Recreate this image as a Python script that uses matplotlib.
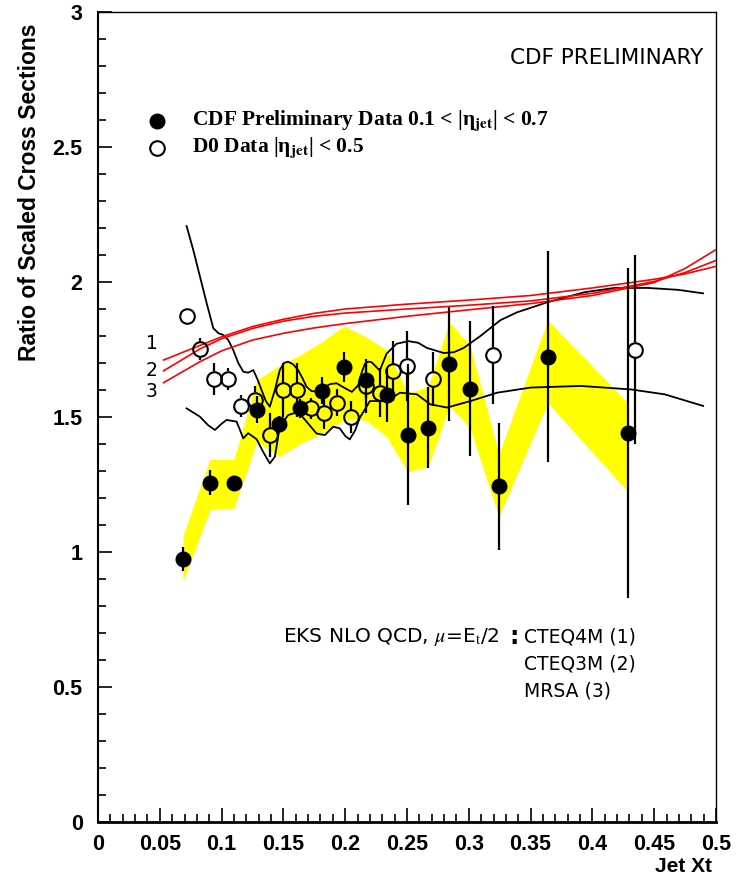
import matplotlib
matplotlib.use('Agg')
import matplotlib.pyplot as plt
import numpy as np

plt.rcParams['mathtext.fontset'] = 'stix'

# CDF preliminary data (filled circles)
cdf_x = [0.0687, 0.0905, 0.110, 0.1285, 0.1466, 0.1638, 0.1816, 0.199, 0.2165,
         0.2336, 0.2506, 0.2672, 0.2842, 0.301, 0.3243, 0.3638, 0.4285]
cdf_y = [0.974, 1.256, 1.256, 1.526, 1.473, 1.532, 1.597, 1.686, 1.636,
         1.581, 1.435, 1.460, 1.696, 1.605, 1.243, 1.724, 1.441]
cdf_err = [0.045, 0.046, 0.02, 0.05, 0.03, 0.035, 0.05, 0.055, 0.065,
           0.10, 0.26, 0.15, 0.21, 0.25, 0.235, 0.39, 0.61]
# systematic band edges at the CDF points
band_hi = [1.059, 1.343, 1.343, 1.637, 1.69, 1.73, 1.78, 1.837, 1.797,
           1.748, 1.589, 1.612, 1.851, 1.765, 1.361, 1.859, 1.553]
band_lo = [0.890, 1.156, 1.163, 1.409, 1.353, 1.402, 1.439, 1.489, 1.489,
           1.427, 1.297, 1.316, 1.54, 1.46, 1.131, 1.553, 1.224]

# D0 data (open circles)
d0_x = [0.0717, 0.0827, 0.0938, 0.1048, 0.116, 0.1267, 0.139, 0.1498, 0.161,
        0.172, 0.183, 0.1937, 0.2045, 0.2165, 0.228, 0.239, 0.2504, 0.2709,
        0.3193, 0.4348]
d0_y = [1.874, 1.751, 1.641, 1.641, 1.541, 1.563, 1.433, 1.600, 1.600,
        1.532, 1.514, 1.553, 1.499, 1.615, 1.590, 1.670, 1.690, 1.640,
        1.730, 1.749]
d0_err = [0.0, 0.04, 0.06, 0.04, 0.04, 0.05, 0.08, 0.10, 0.10,
          0.04, 0.06, 0.05, 0.06, 0.10, 0.09, 0.11, 0.13, 0.10,
          0.18, 0.35]

# D0 systematic envelope (black curves)
up_x = [0.0717, 0.0770, 0.0825, 0.0880, 0.0933, 0.0975, 0.1013, 0.1054, 0.1094,
        0.1135, 0.1175, 0.1215, 0.1256, 0.1290, 0.1323, 0.1357, 0.139, 0.1431,
        0.1471, 0.1505, 0.1538, 0.1579, 0.1619, 0.1653, 0.1687, 0.1728, 0.1768,
        0.1800, 0.1835, 0.1880, 0.193, 0.1997, 0.2054, 0.2104, 0.2130, 0.2159,
        0.2185, 0.2213, 0.228, 0.2334, 0.2414, 0.2511, 0.2590, 0.266, 0.2796,
        0.2880, 0.2959, 0.3094, 0.3257, 0.3392, 0.3636, 0.3934, 0.4178, 0.4449,
        0.4693, 0.4896]
up_y = [2.207, 2.120, 2.020, 1.920, 1.829, 1.810, 1.804, 1.785, 1.748,
        1.700, 1.668, 1.664, 1.674, 1.640, 1.600, 1.560, 1.538, 1.600,
        1.674, 1.700, 1.705, 1.695, 1.674, 1.645, 1.612, 1.596, 1.594,
        1.600, 1.612, 1.622, 1.625, 1.607, 1.593, 1.617, 1.660, 1.697,
        1.705, 1.703, 1.672, 1.734, 1.771, 1.781, 1.775, 1.756, 1.737,
        1.740, 1.756, 1.800, 1.859, 1.888, 1.925, 1.962, 1.978, 1.978,
        1.971, 1.958]
lo_x = [0.0717, 0.0825, 0.0890, 0.0946, 0.1000, 0.1040, 0.1121, 0.1150, 0.1175,
        0.1215, 0.1283, 0.1337, 0.139, 0.1431, 0.1471, 0.1538, 0.1619, 0.1687,
        0.1768, 0.1835, 0.1903, 0.1956, 0.2000, 0.2037, 0.2080, 0.2118, 0.2200,
        0.2336, 0.2444, 0.2580, 0.2688, 0.2824, 0.3013, 0.3229, 0.3500, 0.3907,
        0.4313, 0.4584, 0.4896]
lo_y = [1.532, 1.501, 1.470, 1.452, 1.475, 1.489, 1.483, 1.450, 1.421,
        1.440, 1.418, 1.370, 1.328, 1.353, 1.464, 1.507, 1.519, 1.483,
        1.439, 1.433, 1.464, 1.458, 1.430, 1.417, 1.450, 1.497, 1.559,
        1.559, 1.590, 1.584, 1.547, 1.535, 1.559, 1.590, 1.609, 1.615,
        1.602, 1.584, 1.541]

# EKS NLO QCD ratios: CTEQ4M (1), CTEQ3M (2), MRSA (3)
th_x = [0.053, 0.0825, 0.1, 0.125, 0.15, 0.175, 0.2, 0.25, 0.3, 0.35, 0.4, 0.45,
        0.475, 0.5]
th1 = [1.711, 1.765, 1.797, 1.835, 1.862, 1.884, 1.900, 1.918, 1.933, 1.950,
       1.978, 2.010, 2.030, 2.058]
th2 = [1.671, 1.752, 1.790, 1.828, 1.855, 1.873, 1.885, 1.900, 1.914, 1.930,
       1.958, 2.002, 2.035, 2.080]
th3 = [1.627, 1.705, 1.745, 1.785, 1.810, 1.830, 1.846, 1.873, 1.897, 1.920,
       1.950, 1.998, 2.050, 2.120]

fig = plt.figure(figsize=(7.4, 8.86), dpi=100)
ax = fig.add_axes([98 / 740, 64 / 886, 618 / 740, 810 / 886])

ax.fill_between(cdf_x, band_lo, band_hi, color='#ffff00', lw=0, zorder=1)

ax.plot(up_x, up_y, color='black', lw=1.3, zorder=2)
ax.plot(lo_x, lo_y, color='black', lw=1.3, zorder=2)
for th in (th1, th2, th3):
    ax.plot(th_x, th, color='red', lw=1.2, zorder=3)

# error bars stop at the circle edge, so open markers stay hollow
r = 7.5 / 270.0
for x, y, e in zip(d0_x, d0_y, d0_err):
    if e > r:
        ax.vlines(x, y + r, y + e, color='black', lw=1.6, zorder=4)
        ax.vlines(x, y - e, y - r, color='black', lw=1.6, zorder=4)
ax.plot(d0_x, d0_y, 'o', ms=10.5, mfc='none', mec='black', mew=1.5, zorder=5)

ax.vlines(cdf_x, np.array(cdf_y) - cdf_err, np.array(cdf_y) + cdf_err,
          color='black', lw=1.6, zorder=4)
ax.plot(cdf_x, cdf_y, 'o', ms=10.5, color='black', zorder=5)

ax.set_xlim(0, 0.5)
ax.set_ylim(0, 3)
ax.set_xticks(np.arange(0, 0.501, 0.05))
ax.set_xticks(np.arange(0, 0.501, 0.01), minor=True)
ax.set_yticks(np.arange(0, 3.01, 0.5))
ax.set_yticks(np.arange(0, 3.01, 0.1), minor=True)
ax.set_xticklabels(['0', '0.05', '0.1', '0.15', '0.2', '0.25', '0.3', '0.35',
                    '0.4', '0.45', '0.5'])
ax.set_yticklabels(['0', '0.5', '1', '1.5', '2', '2.5', '3'])
ax.tick_params(which='both', direction='in', top=False, right=False, width=1.2)
ax.tick_params(which='major', length=10)
ax.tick_params(which='minor', length=5.5)
ax.tick_params(axis='x', pad=9)
ax.tick_params(axis='y', pad=11)
for lab in ax.get_xticklabels() + ax.get_yticklabels():
    lab.set_fontfamily('Liberation Sans')
    lab.set_fontweight('bold')
    lab.set_fontsize(15.5)
for s in ('top', 'right'):
    ax.spines[s].set_linewidth(1.0)
ax.spines['left'].set_linewidth(1.5)
ax.spines['bottom'].set_linewidth(2.0)

fig.text(30 / 740, 1 - 192 / 886, 'Ratio of Scaled Cross Sections', rotation=90,
         ha='center', va='center', family='Liberation Sans', weight='bold',
         fontsize=16.5)
fig.text(712 / 740, 1 - 866 / 886, 'Jet Xt', ha='right', va='center',
         family='Liberation Sans', weight='bold', fontsize=15)

ax.text(0.49, 2.83, 'CDF PRELIMINARY', ha='right', va='center',
        family='DejaVu Sans', fontsize=15.5)

# legend
ax.plot([0.0477], [2.598], 'o', ms=10.5, color='black', clip_on=False)
ax.plot([0.0477], [2.498], 'o', ms=10.5, mfc='none', mec='black', mew=1.5,
        clip_on=False)
ax.text(0.076, 2.598, r'CDF Preliminary Data 0.1 < |η$_{\mathbf{jet}}$| < 0.7',
        ha='left', va='center', family='Liberation Serif', weight='bold',
        fontsize=15.5)
ax.text(0.076, 2.498, r'D0 Data |η$_{\mathbf{jet}}$| < 0.5',
        ha='left', va='center', family='Liberation Serif', weight='bold',
        fontsize=15.5)

# theory labels
for lab, yy in zip(['1', '2', '3'], [1.773, 1.672, 1.594]):
    ax.text(0.0435, yy, lab, ha='center', va='center', family='DejaVu Sans',
            fontsize=13.5)
ax.text(0.1495, 0.684, r'EKS NLO QCD, $\mu$=E$_{\rm t}$/2', ha='left',
        va='center', family='DejaVu Sans', fontsize=14.5)
ax.text(0.3365, 0.684, ':', ha='center', va='center', family='DejaVu Sans',
        weight='bold', fontsize=17)
ax.text(0.3445, 0.684, 'CTEQ4M (1)', ha='left', va='center',
        family='DejaVu Sans', fontsize=13.5)
ax.text(0.3445, 0.584, 'CTEQ3M (2)', ha='left', va='center',
        family='DejaVu Sans', fontsize=13.5)
ax.text(0.3445, 0.484, 'MRSA (3)', ha='left', va='center',
        family='DejaVu Sans', fontsize=13.5)

fig.savefig('out.png', dpi=100)
